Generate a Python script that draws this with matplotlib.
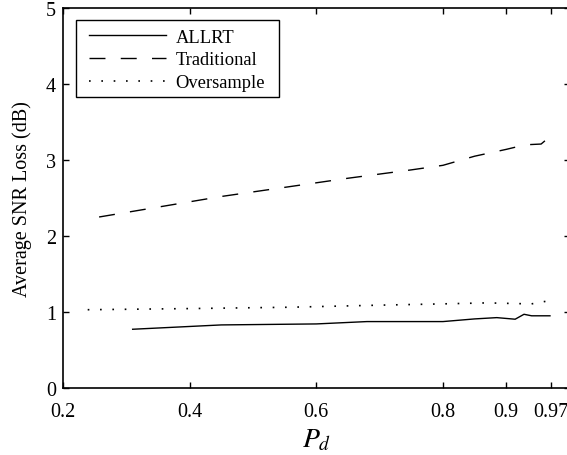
import matplotlib
matplotlib.use("Agg")
import matplotlib.pyplot as plt
from matplotlib.patches import Rectangle

plt.rcParams['font.family'] = ['Liberation Serif', 'DejaVu Serif']
plt.rcParams['mathtext.fontset'] = 'stix'

# Data
allrt_pd = [0.31, 0.45, 0.60, 0.68, 0.80, 0.85, 0.885, 0.914, 0.928, 0.94, 0.969]
allrt_loss = [0.773, 0.83, 0.843, 0.874, 0.874, 0.909, 0.926, 0.905, 0.97, 0.95, 0.95]

trad_pd = [0.257, 0.35, 0.45, 0.55, 0.65, 0.75, 0.80, 0.85, 0.90, 0.93, 0.955, 0.965, 0.973]
trad_loss = [2.25, 2.38, 2.52, 2.64, 2.76, 2.87, 2.93, 3.05, 3.14, 3.20, 3.21, 3.28, 3.30]

over_pd = [0.239, 0.40, 0.56, 0.70, 0.80, 0.87, 0.92, 0.94, 0.96, 0.975]
over_loss = [1.03, 1.045, 1.063, 1.09, 1.107, 1.12, 1.11, 1.107, 1.137, 1.16]

xticks = [0.2, 0.4, 0.6, 0.8, 0.9, 0.97]
xticklabels = ['0.2', '0.4', '0.6', '0.8', '0.9', '0.97']
yticks = [0, 1, 2, 3, 4, 5]

W, H = 567, 456
fig = plt.figure(figsize=(W / 100, H / 100), dpi=100)
l, r, b, t = 63, 569.6, 389, 9
ax = fig.add_axes([l / W, (H - b) / H, (r - l) / W, (b - t) / H])

ax.plot(allrt_pd, allrt_loss, color='black', lw=1.0, linestyle='-', label='ALLRT')
ax.plot(trad_pd, trad_loss, color='black', lw=1.0, linestyle=(0, (11.5, 11)), label='Traditional')
ax.plot(over_pd, over_loss, color='black', lw=1.2, linestyle=(0, (1.0, 6.4)), label='Oversample')

ax.set_xlim(0.2, 1.0)
ax.set_ylim(0, 5)
ax.set_xticks(xticks)
ax.set_xticklabels(xticklabels)
ax.set_yticks(yticks)
ax.tick_params(direction='in', length=4, width=1, labelsize=14.5, pad=5,
               top=True, right=True)
ax.tick_params(axis='x', pad=10)
for s in ax.spines.values():
    s.set_linewidth(1.2)

ax.set_ylabel('Average SNR Loss (dB)', fontsize=14.5, labelpad=10)
ax.set_xlabel(r'$P_d$', fontsize=20, labelpad=4)

leg = ax.legend(loc='upper left', bbox_to_anchor=((75.7 - l) / (r - l), 1 - (16.7 - t) / (b - t)),
                fontsize=13.3, handlelength=4.2, handletextpad=0.5, labelspacing=0.31,
                borderaxespad=0, borderpad=0.7, frameon=False)
leg.set_zorder(6)

# legend box (MATLAB-style square frame)
bx0, by0, bx1, by1 = 75.7, 20.7, 278.7, 97.7
ax.add_patch(Rectangle((bx0 / W, (H - by1) / H), (bx1 - bx0) / W, (by1 - by0) / H,
                       transform=fig.transFigure, fill=True, facecolor='white',
                       edgecolor='black', lw=1.0, zorder=5, clip_on=False))

fig.savefig('out.png', dpi=100)
